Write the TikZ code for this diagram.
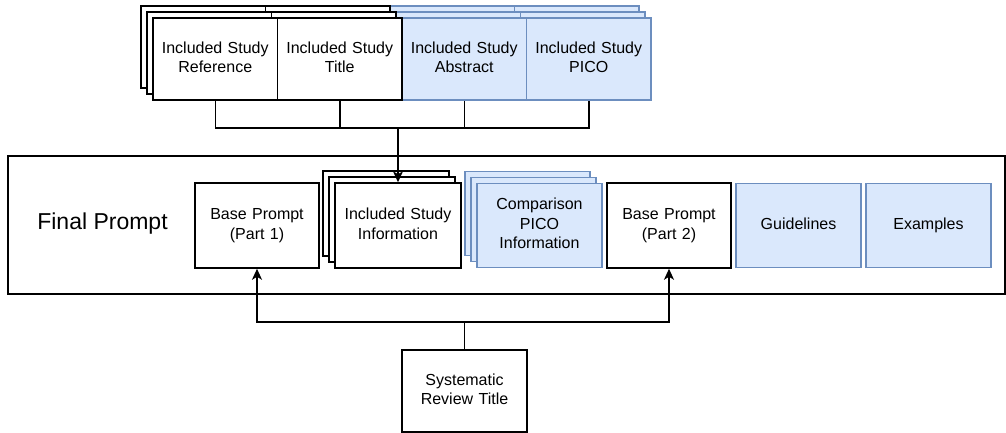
\documentclass[tikz,border=0pt]{standalone}
\usepackage{fontspec}
\setmainfont{Liberation Sans}
\usetikzlibrary{shadows,arrows.meta}

\definecolor{bluefill}{HTML}{DAE8FC}
\definecolor{blueline}{HTML}{6C8EBF}

\tikzset{
  lw/.style={line width=1.5pt},
  box/.style={lw, draw=black, fill=white, minimum width=#1, text width=#1-8pt,
    align=center, inner sep=0pt, font=\fontsize{16}{19.5}\selectfont,
    execute at begin node=\strut, execute at end node=\strut},
  bluebox/.style={box=#1, draw=blueline, fill=bluefill},
  stackw/.style={
    general shadow={shadow xshift=-12pt, shadow yshift=12pt, draw=black, fill=white, line width=1.5pt},
    general shadow={shadow xshift=-6pt, shadow yshift=6pt, draw=black, fill=white, line width=1.5pt}},
  stackb/.style={
    general shadow={shadow xshift=-12pt, shadow yshift=12pt, draw=blueline, fill=bluefill, line width=1.5pt},
    general shadow={shadow xshift=-6pt, shadow yshift=6pt, draw=blueline, fill=bluefill, line width=1.5pt}},
  link/.style={lw, draw=black},
  arrow/.style={link, -{Stealth[length=11pt,width=10pt,inset=3pt]}},
}

\begin{document}
\begin{tikzpicture}[x=1pt,y=-1pt]
\useasboundingbox (0,0) rectangle (1006,432);

% container for the assembled prompt
\node[lw, draw=black, minimum width=997pt, minimum height=138pt, inner sep=0pt]
  (final) at (506.5,225) {};
\node[font=\fontsize{23}{27}\selectfont, inner sep=0pt] (finallbl) at (102.5,224) {Final Prompt};

% included study fields (drawn right to left so each stack sits behind its left neighbour)
\node[bluebox=124.5pt, stackb, minimum height=82pt] (pico)  at (588.75,59) {Included Study\\PICO};
\node[bluebox=124.5pt, stackb, minimum height=82pt] (abs)   at (464.25,59) {Included Study\\Abstract};
\node[box=124.5pt, stackw, minimum height=82pt]     (title) at (339.75,59) {Included Study\\Title};
\node[box=124.5pt, stackw, minimum height=82pt]     (ref)   at (215.25,59) {Included Study\\Reference};

% parts of the final prompt
\node[box=124pt, minimum height=85pt] (bp1) at (257,225.5) {Base Prompt\\(Part 1)};
\node[box=126pt, stackw, minimum height=85pt] (info) at (398,225.5) {Included Study\\Information};
\node[bluebox=125pt, stackb, minimum height=84pt] (cmp) at (539.5,225.5) {Comparison\\PICO\\Information};
\node[box=124pt, minimum height=85pt] (bp2) at (669,225.5) {Base Prompt\\(Part 2)};
\node[bluebox=125pt, minimum height=84pt] (guide) at (798.5,225.5) {Guidelines};
\node[bluebox=125pt, minimum height=84pt] (ex) at (928.5,225.5) {Examples};

% review title source
\node[box=125pt, minimum height=82pt] (sys) at (464.5,391) {Systematic\\Review Title};

% merge the study fields into the study information block
\coordinate (hub) at (398,128);
\draw[link] (ref.south) -- (ref.south |- hub) -- (pico.south |- hub) -- (pico.south);
\draw[link] (title.south) -- (title.south |- hub);
\draw[link] (abs.south) -- (abs.south |- hub);
\draw[arrow] (info.north |- hub) -- (info.north);

% the review title feeds both base prompt parts
\coordinate (split) at (464.5,322);
\draw[link] (sys.north) -- (split);
\draw[arrow] (split) -| (bp1.south);
\draw[arrow] (split) -| (bp2.south);
\end{tikzpicture}
\end{document}
